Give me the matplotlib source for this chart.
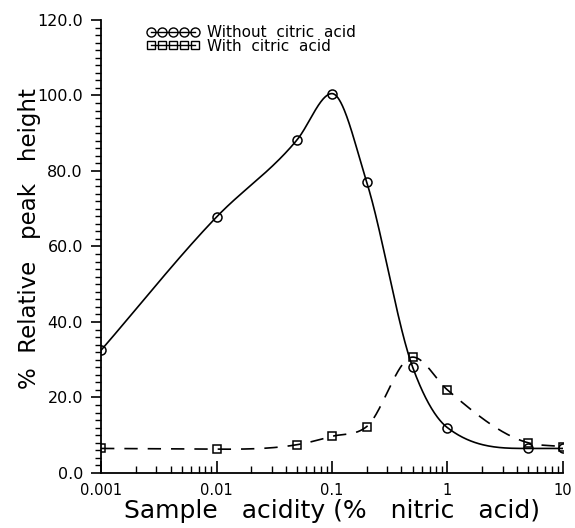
import numpy as np
import matplotlib
matplotlib.use("Agg")
import matplotlib.pyplot as plt
from matplotlib.ticker import LogLocator, FixedLocator, MultipleLocator, NullFormatter

# acidity (% nitric acid)
acidity = [0.001, 0.01, 0.05, 0.1, 0.2, 0.5, 1, 5, 10]
# relative peak height (%)
without_citric = [32.5, 67.8, 88.3, 100.5, 77.0, 28.0, 12.0, 6.5, 6.5]
with_citric = [6.5, 6.3, 7.5, 9.7, 12.3, 30.7, 22.0, 8.0, 7.0]


def smooth(x, y, n=60):
    # cubic hermite curve through the points in log10(x) space,
    # tangents from neighbours, flat at extrema, limited to avoid overshoot
    lx = np.log10(x)
    y = np.asarray(y, float)
    h = np.diff(lx)
    d = np.diff(y) / h
    m = np.zeros_like(y)
    m[0], m[-1] = d[0], d[-1]
    for i in range(1, len(y) - 1):
        if d[i - 1] * d[i] > 0:
            m[i] = (h[i] * d[i - 1] + h[i - 1] * d[i]) / (h[i - 1] + h[i])
    for i in range(len(h)):
        if d[i] == 0:
            m[i] = m[i + 1] = 0
            continue
        a, b = m[i] / d[i], m[i + 1] / d[i]
        if a * a + b * b > 9:
            tau = 3 / np.sqrt(a * a + b * b)
            m[i], m[i + 1] = tau * a * d[i], tau * b * d[i]
    xs, ys = [], []
    t = np.linspace(0, 1, n)
    for i in range(len(h)):
        h00 = 2 * t ** 3 - 3 * t ** 2 + 1
        h10 = t ** 3 - 2 * t ** 2 + t
        h01 = -2 * t ** 3 + 3 * t ** 2
        h11 = t ** 3 - t ** 2
        xs.append(lx[i] + t * h[i])
        ys.append(h00 * y[i] + h10 * h[i] * m[i] + h01 * y[i + 1] + h11 * h[i] * m[i + 1])
    return 10 ** np.concatenate(xs), np.concatenate(ys)


fig = plt.figure(figsize=(5.75, 5.28), dpi=100)
ax = fig.add_axes([0.1757, 0.1042, 0.8033, 0.858])

sx, sy = smooth(acidity, without_citric)
ax.plot(sx, sy, color="black", lw=1.2)
ax.plot(acidity, without_citric, "o", mfc="none", mec="black", ms=6.5, mew=1.1)
h1, = ax.plot([], [], "o-", color="black", mfc="none", ms=6.5, lw=1.0, mew=1.0)

sx, sy = smooth(acidity, with_citric)
ax.plot(sx, sy, color="black", lw=1.2, dashes=(8, 6))
ax.plot(acidity, with_citric, "s", mfc="none", mec="black", ms=5.5, mew=1.1)
h2, = ax.plot([], [], "s-", color="black", mfc="none", ms=6, lw=1.0, mew=1.0)

ax.set_xscale("log")
ax.set_xlim(0.001, 10)
ax.set_ylim(0, 120)

ax.xaxis.set_major_locator(FixedLocator([0.001, 0.01, 0.1, 1, 10]))
ax.set_xticklabels(["0.001", "0.01", "0.1", "1", "10"])
ax.xaxis.set_minor_locator(LogLocator(base=10, subs=np.arange(2, 10)))
ax.xaxis.set_minor_formatter(NullFormatter())
ax.yaxis.set_major_locator(MultipleLocator(20))
ax.yaxis.set_minor_locator(MultipleLocator(2))
ax.set_yticklabels(["%.1f" % v for v in ax.get_yticks()])

ax.tick_params(axis="x", which="both", direction="in", labelsize=10.5, pad=7)
ax.tick_params(axis="x", which="major", length=9, width=1.2)
ax.tick_params(axis="x", which="minor", length=5, width=1)
ax.tick_params(axis="y", which="both", direction="out", labelsize=11.5, pad=6)
ax.tick_params(axis="y", which="major", length=7, width=1.2)
ax.tick_params(axis="y", which="minor", length=4, width=1)

for s in ["top", "right"]:
    ax.spines[s].set_visible(False)
for s in ["left", "bottom"]:
    ax.spines[s].set_linewidth(1.3)

ax.set_xlabel("Sample   acidity (%   nitric   acid)", fontsize=18)
ax.xaxis.set_label_coords(0.5, -0.058)
ax.set_ylabel("%  Relative   peak   height", fontsize=16.5)
ax.yaxis.set_label_coords(-0.13, 0.517)

ax.legend([h1, h2], ["Without  citric  acid", "With  citric  acid"],
          loc="upper left", bbox_to_anchor=(0.075, 1.012), frameon=False,
          numpoints=5, handlelength=3.5, handletextpad=0.45, labelspacing=-0.1,
          fontsize=11, borderpad=0.2)

fig.savefig("out.png", dpi=100)
